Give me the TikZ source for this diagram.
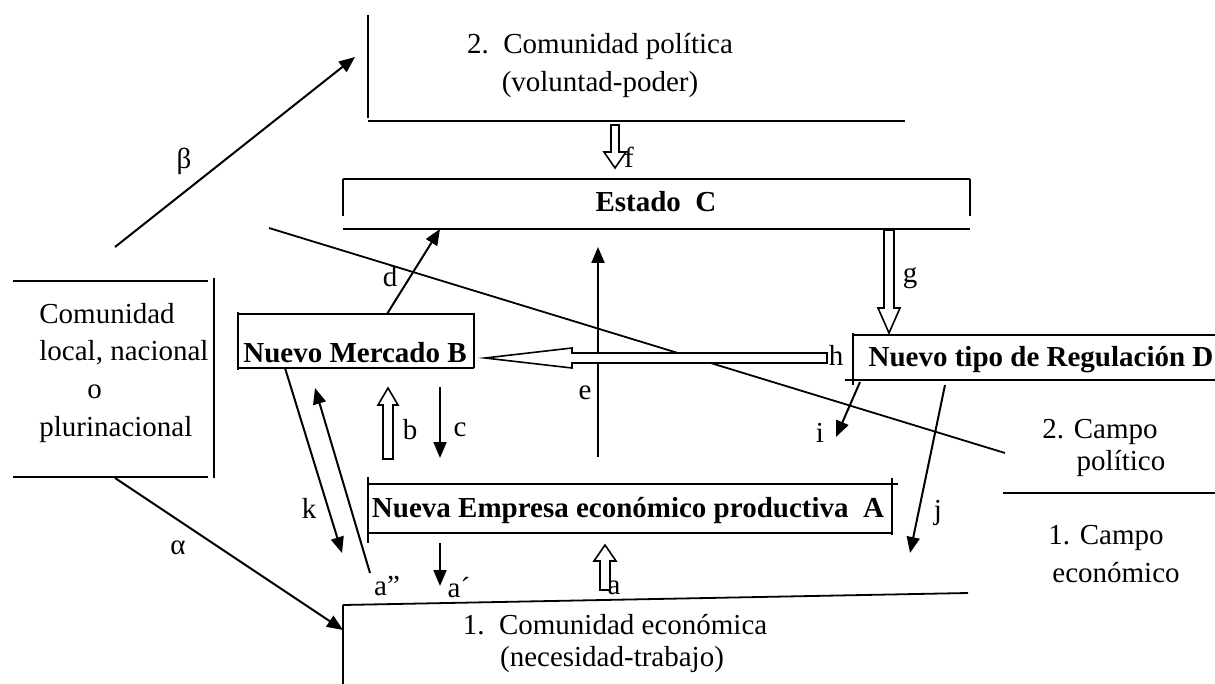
\documentclass[tikz,border=0pt]{standalone}
\usepackage{fontspec}
\setmainfont{Liberation Serif}
\usetikzlibrary{arrows.meta}

\begin{document}
\begin{tikzpicture}[
  x=0.5pt, y=-0.5pt,
  every node/.style={font=\fontsize{14.5}{17.5}\selectfont, inner sep=0pt},
  boxtext/.style={font=\fontsize{14.5}{17.5}\selectfont\bfseries, anchor=base},
  frame/.style={line width=0.9pt},
  arrow/.style={line width=1pt, -{Triangle[length=8pt, width=6.5pt]}},
  hollow/.style={draw, fill=white, line width=0.8pt, line join=miter}
]
\useasboundingbox (0,0) rectangle (1215,684);

% texts
\node (polit1) at (600,47) {2.\ \ Comunidad política};
\node (polit2) at (600,85) {(voluntad-poder)};
\node[boxtext] (estado) at (656,212) {Estado\ \ C};
\node[boxtext] (mercado) at (355,362) {Nuevo Mercado B};
\node[boxtext] (regul) at (1041,366) {Nuevo tipo de Regulación D};
\node[boxtext] (empresa) at (628,517) {Nueva Empresa económico productiva\ \ A};
\node[anchor=base west] (local1) at (39,323) {Comunidad};
\node[anchor=base west] (local2) at (39,360) {local, nacional};
\node[anchor=base west] (local3) at (87,398) {o};
\node[anchor=base west] (local4) at (39,436) {plurinacional};
\node (econ1) at (615,625) {1.\ \ Comunidad económica};
\node (econ2) at (612,660) {(necesidad-trabajo)};
\node (campo2a) at (1100,432) {2. Campo};
\node (campo2b) at (1121,464) {político};
\node (campo1a) at (1106,538) {1. Campo};
\node (campo1b) at (1116,573) {económico};

% labels
\node (beta) at (184,161) {β};
\node (alpha) at (178,548) {α};
\node (lf) at (629,157) {f};
\node (ld) at (390,277) {d};
\node (lg) at (910,278) {g};
\node (lh) at (836,355) {h};
\node (le) at (585,393) {e};
\node (lb) at (410,430) {b};
\node (lc) at (460,430) {c};
\node (li) at (820,433) {i};
\node (lk) at (309,508) {k};
\node (lj) at (938,513) {j};
\node (la2) at (387,586) {a”};
\node (la1) at (459,588) {a´};
\node (la) at (614,588) {a};

% frames
\draw[frame] (368,15) -- (368,118);
\draw[frame] (368,121) -- (905,121);
\draw[frame] (343,179) -- (970,179);
\draw[frame] (343,179) -- (343,216);
\draw[frame] (970,179) -- (970,216);
\draw[frame] (343,229) -- (970,229);
\draw[frame] (238,314) -- (474,314) -- (474,368);
\draw[frame] (238,312) -- (238,370);
\draw[frame] (238,368) -- (474,368);
\draw[frame] (853,335) -- (1215,335);
\draw[frame] (853,333) -- (853,385);
\draw[frame] (845,380) -- (1215,380);
\draw[frame] (13,281) -- (208,281);
\draw[frame] (214,278) -- (214,478);
\draw[frame] (13,477) -- (208,477);
\draw[frame] (368,484) -- (898,484);
\draw[frame] (368,477) -- (368,543);
\draw[frame] (892,478) -- (892,535);
\draw[frame] (368,533) -- (892,533);
\draw[frame] (1003,493) -- (1215,493);
\draw[frame] (343,605) -- (968,593);
\draw[frame] (343,605) -- (343,684);

% dividing line
\coordinate (divA) at (269,228);
\coordinate (divB) at (1005,453);
\draw[frame] (divA) -- (divB);

% arrow ends
\coordinate (betaS) at (115,247);
\coordinate (betaE) at (355,57);
\coordinate (alphaS) at (115,478);
\coordinate (alphaE) at (343,630);
\coordinate (dS) at (387,314);
\coordinate (dE) at (440,229);
\coordinate (eS) at (598,457);
\coordinate (eE) at (598,247);
\coordinate (cS) at (440,387);
\coordinate (cE) at (440,458);
\coordinate (kS) at (285,368);
\coordinate (kE) at (342,553);
\coordinate (kkS) at (370,573);
\coordinate (kkE) at (315,388);
\coordinate (a1S) at (440,543);
\coordinate (a1E) at (440,586);
\coordinate (iS) at (860,382);
\coordinate (iE) at (836,437);
\coordinate (jS) at (945,385);
\coordinate (jE) at (910,553);

\draw[arrow] (betaS) -- (betaE);
\draw[arrow] (alphaS) -- (alphaE);
\draw[arrow] (dS) -- (dE);
\draw[arrow] (eS) -- (eE);
\draw[arrow] (cS) -- (cE);
\draw[arrow] (kS) -- (kE);
\draw[arrow] (kkS) -- (kkE);
\draw[arrow] (a1S) -- (a1E);
\draw[arrow] (iS) -- (iE);
\draw[arrow] (jS) -- (jE);

% hollow arrows
\coordinate (fS) at (615,125);
\coordinate (gS) at (889,230);
\coordinate (hS) at (827,358);
\coordinate (bS) at (388,459);
\coordinate (aS) at (605,590);
\draw[hollow] (fS) ++(-4,0) -- ++(0,27) -- ++(-7,0) -- ++(11,16) -- ++(11,-16) -- ++(-7,0) -- ++(0,-27) -- cycle;
\draw[hollow] (gS) ++(-5,0) -- ++(0,78) -- ++(-6,0) -- ++(11,25) -- ++(11,-25) -- ++(-6,0) -- ++(0,-78) -- cycle;
\draw[hollow] (hS) ++(0,-5) -- ++(-255,0) -- ++(0,-5) -- ++(-87,10) -- ++(87,10) -- ++(0,-5) -- ++(255,0) -- cycle;
\draw[hollow] (bS) ++(-5,0) -- ++(0,-54) -- ++(-5,0) -- ++(10,-17) -- ++(10,17) -- ++(-5,0) -- ++(0,54) -- cycle;
\draw[hollow] (aS) ++(-5,0) -- ++(0,-29) -- ++(-6,0) -- ++(11,-16) -- ++(11,16) -- ++(-6,0) -- ++(0,29) -- cycle;

\end{tikzpicture}
\end{document}
